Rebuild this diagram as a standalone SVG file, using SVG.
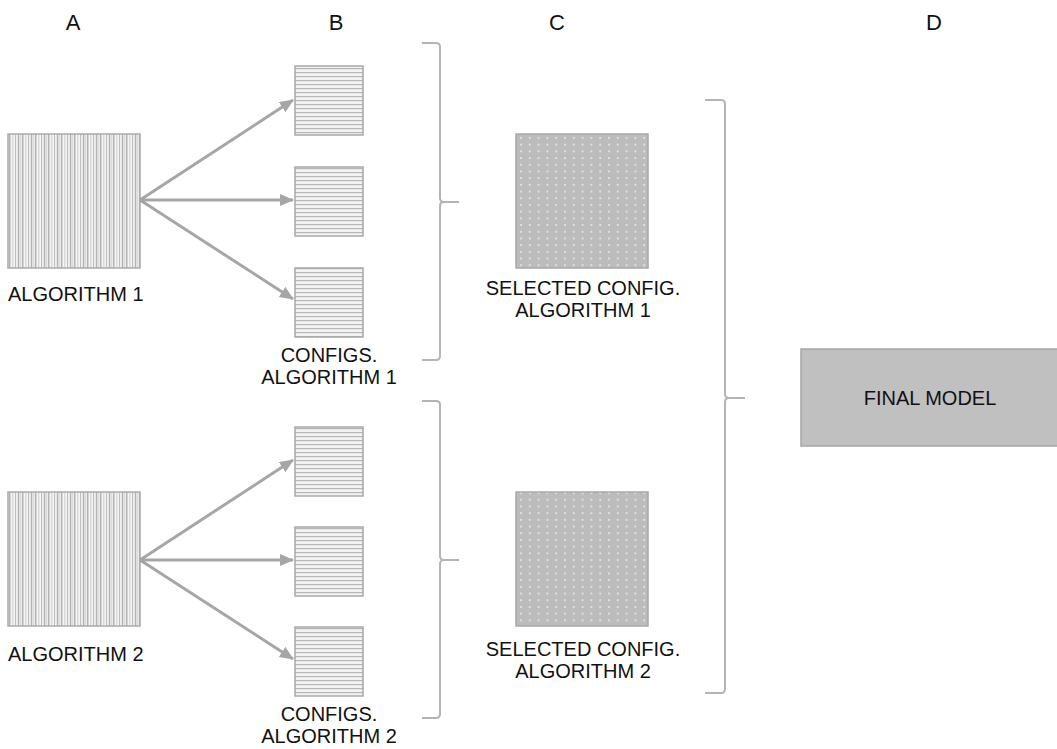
<svg xmlns="http://www.w3.org/2000/svg" width="1057" height="749" viewBox="0 0 1057 749">
  <style>
    .lbl { font-family: "Liberation Sans", Arial, sans-serif; font-size: 20px; fill: #111; }
    .hdr { font-family: "Liberation Sans", Arial, sans-serif; font-size: 22px; fill: #111; text-anchor: middle; }
    .mid { text-anchor: middle; }
    .algo { fill: url(#vstripes); stroke: #ababab; stroke-width: 1.5; }
    .cfg { fill: url(#hstripes); stroke: #a8a8a8; stroke-width: 1.5; }
    .sel { fill: url(#dots); stroke: #a8a8a8; stroke-width: 1.5; }
    .final { fill: #c0c0c0; stroke: #a6a6a6; stroke-width: 1.5; }
    .arrow { stroke: #a6a6a6; stroke-width: 3; fill: none; marker-end: url(#head); }
    .brace { stroke: #b4b4b4; stroke-width: 2; fill: none; }
  </style>
  <defs>
    <!-- vertical striping for the algorithm blocks -->
    <pattern id="vstripes" patternUnits="userSpaceOnUse" x="9" y="0" width="13" height="10">
      <rect width="13" height="10" fill="#f5f5f5"/>
      <rect x="0" y="0" width="1.5" height="10" fill="#b3b3b3"/>
      <rect x="3.4" y="0" width="0.9" height="10" fill="#c8c8c8"/>
      <rect x="6" y="0" width="1.1" height="10" fill="#bdbdbd"/>
      <rect x="8.8" y="0" width="1.5" height="10" fill="#b2b2b2"/>
      <rect x="11.4" y="0" width="0.8" height="10" fill="#cccccc"/>
    </pattern>
    <!-- horizontal striping for the configuration blocks -->
    <pattern id="hstripes" patternUnits="userSpaceOnUse" x="0" y="0" width="10" height="4">
      <rect width="10" height="4" fill="#f3f3f3"/>
      <rect x="0" y="0" width="10" height="1.2" fill="#b6b6b6"/>
    </pattern>
    <!-- dotted grey fill for the selected configurations -->
    <pattern id="dots" patternUnits="userSpaceOnUse" x="519" y="136" width="8.8" height="6.7">
      <rect width="8.8" height="6.7" fill="#bcbcbc"/>
      <ellipse cx="2" cy="2" rx="0.8" ry="1.1" fill="#f4f4f4"/>
    </pattern>
    <marker id="head" markerUnits="userSpaceOnUse" markerWidth="16" markerHeight="14" refX="13" refY="6" orient="auto">
      <path d="M0,0 L14,6 L0,12 Z" fill="#a6a6a6"/>
    </marker>
  </defs>

  <!-- column headers -->
  <g id="headers">
    <text class="hdr" x="73" y="30">A</text>
    <text class="hdr" x="336" y="30">B</text>
    <text class="hdr" x="557" y="30">C</text>
    <text class="hdr" x="934" y="30">D</text>
  </g>

  <!-- algorithms -->
  <g id="algorithm1">
    <rect class="algo" x="8" y="134" width="132" height="134"/>
    <text class="lbl" x="8" y="301">ALGORITHM 1</text>
  </g>
  <g id="algorithm2">
    <rect class="algo" x="8" y="492" width="132" height="134"/>
    <text class="lbl" x="8" y="661">ALGORITHM 2</text>
  </g>

  <!-- configurations -->
  <g id="configs1">
    <rect class="cfg" x="295" y="66" width="68" height="69"/>
    <rect class="cfg" x="295" y="167" width="68" height="69"/>
    <rect class="cfg" x="295" y="268" width="68" height="69"/>
    <text class="lbl mid" x="329" y="362">CONFIGS.</text>
    <text class="lbl mid" x="329" y="384">ALGORITHM 1</text>
  </g>
  <g id="configs2">
    <rect class="cfg" x="295" y="427" width="68" height="69"/>
    <rect class="cfg" x="295" y="527" width="68" height="69"/>
    <rect class="cfg" x="295" y="627" width="68" height="69"/>
    <text class="lbl mid" x="329" y="721">CONFIGS.</text>
    <text class="lbl mid" x="329" y="743">ALGORITHM 2</text>
  </g>

  <!-- selected configurations -->
  <g id="selected1">
    <rect class="sel" x="516" y="134" width="132" height="134"/>
    <text class="lbl mid" x="583" y="295">SELECTED CONFIG.</text>
    <text class="lbl mid" x="583" y="317">ALGORITHM 1</text>
  </g>
  <g id="selected2">
    <rect class="sel" x="516" y="492" width="132" height="134"/>
    <text class="lbl mid" x="583" y="656">SELECTED CONFIG.</text>
    <text class="lbl mid" x="583" y="678">ALGORITHM 2</text>
  </g>

  <!-- final model -->
  <g id="final-model">
    <rect class="final" x="801" y="349" width="260" height="97"/>
    <text class="lbl mid" x="930" y="405">FINAL MODEL</text>
  </g>

  <!-- connectors -->
  <g id="connectors">
    <path class="arrow" d="M140,200 L293,100"/>
    <path class="arrow" d="M140,200 L293,200"/>
    <path class="arrow" d="M140,200 L293,299"/>
    <path class="arrow" d="M140,560 L293,460"/>
    <path class="arrow" d="M140,560 L293,560"/>
    <path class="arrow" d="M140,560 L293,659"/>
    <path class="brace" d="M422,43 H436 Q440,43 440,47 V198 Q440,202 444,202 H459 M444,202 Q440,202 440,206 V356 Q440,360 436,360 H422"/>
    <path class="brace" d="M422,401 H436 Q440,401 440,405 V556 Q440,560 444,560 H459 M444,560 Q440,560 440,564 V714 Q440,718 436,718 H422"/>
    <path class="brace" d="M705,100 H721 Q725,100 725,104 V394 Q725,398 729,398 H745 M729,398 Q725,398 725,402 V689 Q725,693 721,693 H705"/>
  </g>
</svg>
